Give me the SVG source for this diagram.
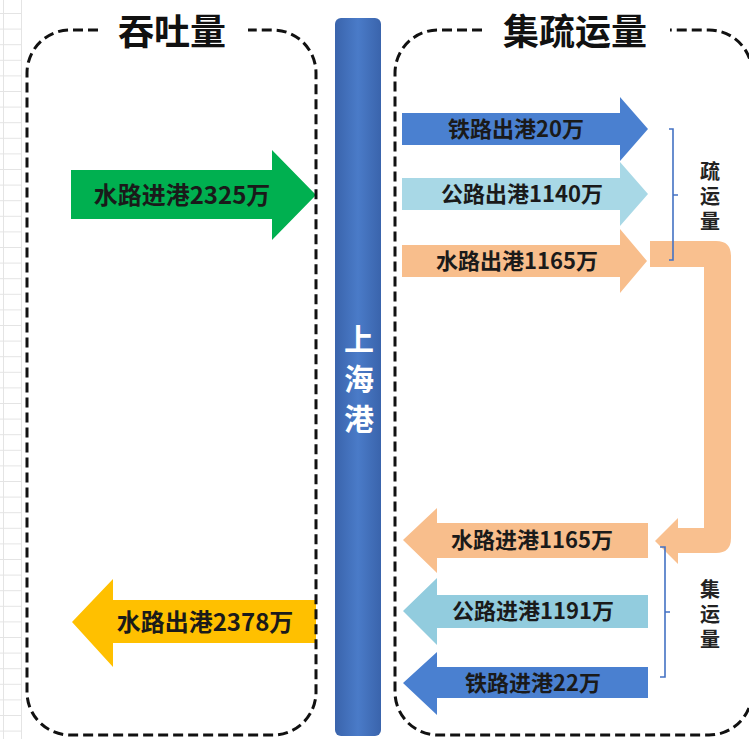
<svg xmlns="http://www.w3.org/2000/svg" width="749" height="739" viewBox="0 0 749 739">
  <style>
    .box { fill: none; stroke: #111; stroke-width: 3; stroke-dasharray: 10 5; }
    .title { font-family: "Noto Sans CJK SC", "Liberation Sans", sans-serif; font-weight: bold; font-size: 36px; fill: #111; text-anchor: middle; }
    .lbl { font-family: "Noto Sans CJK SC", "Liberation Sans", sans-serif; font-weight: bold; fill: #1a1a1a; text-anchor: middle; }
    .big { font-size: 24px; }
    .small { font-size: 22px; }
    .side { font-family: "Noto Sans CJK SC", "Liberation Sans", sans-serif; font-weight: bold; font-size: 20px; fill: #222; text-anchor: start; writing-mode: vertical-rl; letter-spacing: 5px; }
    .port { font-family: "Noto Sans CJK SC", "Liberation Sans", sans-serif; font-weight: bold; font-size: 30px; fill: #fff; text-anchor: middle; }
    .brk { fill: none; stroke: #4472C4; stroke-width: 1.6; }
    .grid { stroke: #e4e4e4; stroke-width: 1; }
  </style>
  <defs>
    <linearGradient id="barGrad" x1="0" y1="0" x2="1" y2="0">
      <stop offset="0" stop-color="#3A64AC"/>
      <stop offset="0.5" stop-color="#4A7BC8"/>
      <stop offset="1" stop-color="#3A64AC"/>
    </linearGradient>
    <pattern id="gridPat" x="0" y="13" width="22" height="15.6" patternUnits="userSpaceOnUse">
      <line class="grid" x1="0" y1="0.5" x2="22" y2="0.5"/>
    </pattern>
  </defs>

  <rect width="749" height="739" fill="#ffffff"/>
  <g id="background-grid">
    <rect x="0" y="0" width="22" height="739" fill="url(#gridPat)"/>
    <line class="grid" x1="3.5" y1="0" x2="3.5" y2="739"/>
    <line class="grid" x1="21.5" y1="0" x2="21.5" y2="739"/>
  </g>

  <g id="port-bar">
    <rect x="335" y="18" width="46" height="718" rx="6" fill="url(#barGrad)"/>
    <text class="port" x="359" y="350">上</text>
    <text class="port" x="359" y="390">海</text>
    <text class="port" x="359" y="430">港</text>
  </g>

  <g id="connectors">
    <path id="transfer" d="M650,241 H716 Q731,241 731,256 V538 Q731,553 716,553 H678 V564 L655,541 L678,518 V528 H704 V267 H650 Z" fill="#F9C08F"/>
    <path class="brk" d="M669,129 H673 V260 H669 M673,195 H678"/>
    <path class="brk" d="M660,547 H665 V677 H660 M665,612 H670"/>
  </g>

  <g id="water-in-total">
    <polygon points="71,170 272,170 272,150 316,195 272,240 272,219 71,219" fill="#00B050"/>
    <text class="lbl big" x="182" y="204">水路进港2325万</text>
  </g>
  <g id="water-out-total">
    <polygon points="316,600 113,600 113,579 72,622 113,667 113,643 316,643" fill="#FFC000"/>
    <text class="lbl big" x="205" y="631">水路出港2378万</text>
  </g>

  <g id="rail-out">
    <polygon points="402,113 620,113 620,97 648,129 620,161 620,145 402,145" fill="#4A80D0"/>
    <text class="lbl small" x="516" y="137">铁路出港20万</text>
  </g>
  <g id="road-out">
    <polygon points="402,178 620,178 620,162 648,194 620,226 620,210 402,210" fill="#A8D8E6"/>
    <text class="lbl small" x="522" y="202">公路出港1140万</text>
  </g>
  <g id="water-out">
    <polygon points="402,245 620,245 620,229 647,261 620,293 620,277 402,277" fill="#F8BE8C"/>
    <text class="lbl small" x="517" y="269">水路出港1165万</text>
  </g>

  <g id="water-in">
    <polygon points="648,523 437,523 437,508 403,540 437,573 437,558 648,558" fill="#F8BE8C"/>
    <text class="lbl small" x="532" y="548">水路进港1165万</text>
  </g>
  <g id="road-in">
    <polygon points="648,595 437,595 437,578 403,611 437,645 437,628 648,628" fill="#92CCDE"/>
    <text class="lbl small" x="533" y="619">公路进港1191万</text>
  </g>
  <g id="rail-in">
    <polygon points="648,667 437,667 437,652 403,683 437,715 437,698 648,698" fill="#4A80D0"/>
    <text class="lbl small" x="533" y="691">铁路进港22万</text>
  </g>

  <g id="label-shu">
    <text class="side" x="710" y="161">疏运量</text>
  </g>
  <g id="label-ji">
    <text class="side" x="710" y="579">集运量</text>
  </g>

  <g id="throughput-box">
    <path class="box" d="M98,30 H70 A43,43 0 0 0 27,73 V692 A43,43 0 0 0 70,735 H273 A43,43 0 0 0 316,692 V73 A43,43 0 0 0 273,30 H248"/>
    <text class="title" x="172" y="45">吞吐量</text>
  </g>
  <g id="collection-box">
    <path class="box" d="M482,30 H438 A43,43 0 0 0 395,73 V692 A43,43 0 0 0 438,735 H709 A43,43 0 0 0 752,692 V73 A43,43 0 0 0 709,30 H670"/>
    <text class="title" x="575" y="45">集疏运量</text>
  </g>
</svg>
